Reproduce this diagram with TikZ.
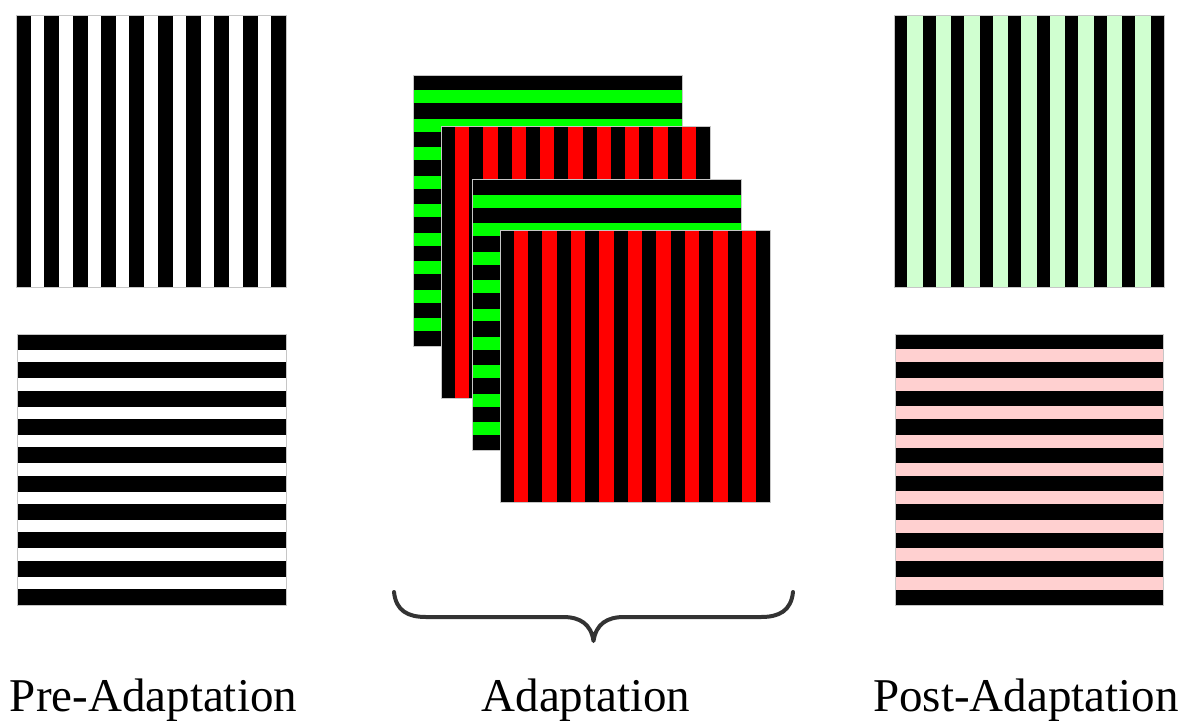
\documentclass[tikz,border=0pt]{standalone}
\usepackage{fontspec}
\setmainfont{Liberation Serif}
\definecolor{brgreen}{HTML}{00FF00}
\definecolor{brred}{HTML}{FF0000}
\definecolor{palegreen}{HTML}{D0FFD0}
\definecolor{palepink}{HTML}{FFD0D0}
\definecolor{bracegray}{HTML}{333333}
\tikzset{
  cardedge/.style={draw=gray!45, line width=0.6pt},
  lbl/.style={anchor=base, inner sep=0pt, font=\fontsize{47}{50}\selectfont},
  bracestyle/.style={draw=bracegray, line width=4pt, line cap=round, line join=round}
}
% #1 x0, #2 y0, #3 W, #4 H, #5 black width, #6 background colour
\newcommand\vstripecard[6]{%
  \fill[#6] (#1,#2) rectangle ++(#3,#4);
  \foreach \i in {0,...,9}
    \fill[black] ({#1+\i*(#3-#5)/9},#2) rectangle ++(#5,#4);
  \path[cardedge] (#1,#2) rectangle ++(#3,#4);
}
\newcommand\hstripecard[6]{%
  \fill[#6] (#1,#2) rectangle ++(#3,#4);
  \foreach \i in {0,...,9}
    \fill[black] (#1,{#2+\i*(#4-#5)/9}) rectangle ++(#3,#5);
  \path[cardedge] (#1,#2) rectangle ++(#3,#4);
}
\begin{document}
\begin{tikzpicture}[x=1pt,y=-1pt]
\useasboundingbox[fill=white] (0,0) rectangle (1185,722);
% Pre-adaptation
\vstripecard{16}{15}{270}{272}{15}{white}
\hstripecard{17}{334}{269}{271}{16}{white}
% Adaptation stack
\hstripecard{413.3}{75}{269}{271.7}{15.5}{brgreen}
\vstripecard{441}{126.7}{269}{271.7}{14}{brred}
\hstripecard{472.7}{179.3}{269}{271.4}{15.5}{brgreen}
\vstripecard{500}{230}{270}{272.3}{14}{brred}
% Post-adaptation
\vstripecard{894}{15}{270}{272}{13.3}{palegreen}
\hstripecard{895}{334}{268}{271}{15.3}{palepink}
% brace
\path[bracestyle] (394,592) .. controls (396,611) and (408,617) .. (426,617)
  -- (563,617) .. controls (580,617) and (591,624) .. (593.5,641)
  .. controls (596,624) and (607,617) .. (624,617)
  -- (761,617) .. controls (779,617) and (791,611) .. (793,592);
% labels
\node[lbl] (pre) at (153.5,711) {Pre-Adaptation};
\node[lbl] (ad) at (586,711) {Adaptation};
\node[lbl] (post) at (1026,711) {Post-Adaptation};
\end{tikzpicture}
\end{document}
